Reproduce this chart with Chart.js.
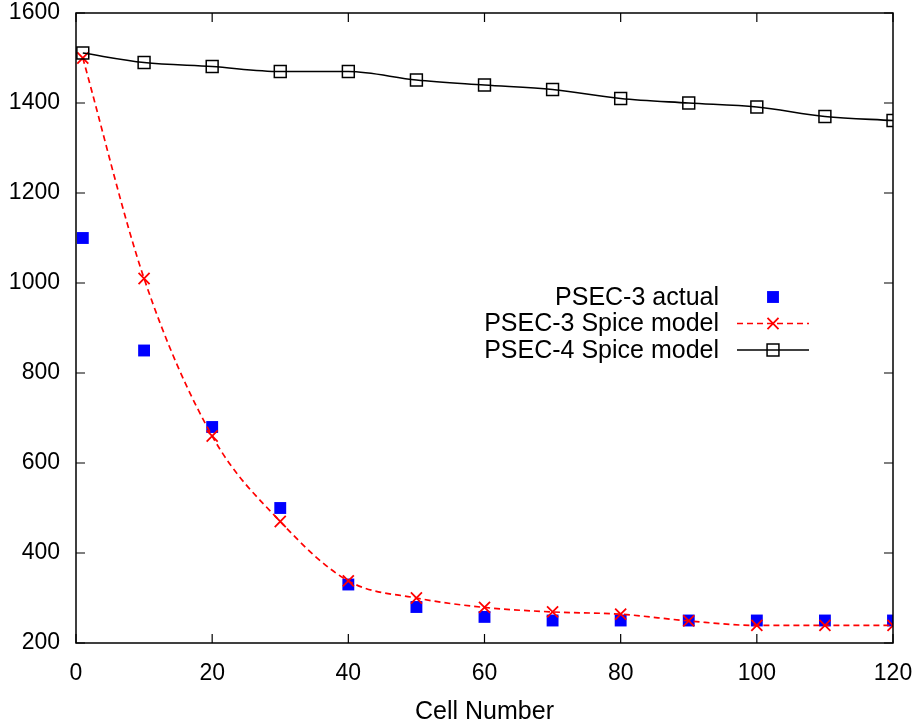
<!DOCTYPE html>
<html>
<head>
<meta charset="utf-8">
<script src="https://cdn.jsdelivr.net/npm/chart.js@4"></script>
<style>
  html, body { margin: 0; padding: 0; background: #fff; }
  #wrap { width: 919px; height: 720px; }
</style>
</head>
<body>
<div id="wrap"><canvas id="c" width="919" height="720"></canvas></div>
<script>
const cells = [1, 10, 20, 30, 40, 50, 60, 70, 80, 90, 100, 110, 120];
const psec3Actual = [1100, 850, 680, 500, 330, 280, 258, 250, 250, 250, 250, 250, 250];
const psec3Spice  = [1500, 1010, 660, 470, 338, 300, 279, 269, 264, 249, 239, 239, 239];
const psec4Spice  = [1511, 1490, 1481, 1470, 1470, 1451, 1440, 1430, 1410, 1400, 1391, 1370, 1361];
const seriesNames = ['PSEC-3 actual', 'PSEC-3 Spice model', 'PSEC-4 Spice model'];
const xTitle = 'Cell Number';
const xTicks = [0, 20, 40, 60, 80, 100, 120];
const yTicks = [200, 400, 600, 800, 1000, 1200, 1400, 1600];

const toPts = (ys) => cells.map((x, i) => ({x: x, y: ys[i]}));

const FONT = '"Liberation Sans", Arial, Helvetica, sans-serif';

function legendPoint(ctx, ds, x, y) {
  ctx.save();
  ctx.fillStyle = ds.pointBackgroundColor;
  ctx.strokeStyle = ds.pointBorderColor;
  ctx.lineWidth = ds.pointBorderWidth;
  Chart.helpers.drawPoint(ctx, {pointStyle: ds.pointStyle, radius: ds.pointRadius, borderWidth: ds.pointBorderWidth, rotation: 0}, x, y);
  ctx.restore();
}

const frameAndLegend = {
  id: 'frameAndLegend',
  afterDatasetsDraw(chart) {
    const {ctx, chartArea: a, scales} = chart;
    ctx.save();
    // frame
    ctx.strokeStyle = '#000';
    ctx.lineWidth = 1.5;
    ctx.strokeRect(a.left, a.top, a.right - a.left, a.bottom - a.top);
    // inward, mirrored ticks
    const tl = 9;
    ctx.lineWidth = 1.2;
    ctx.beginPath();
    xTicks.forEach(v => {
      const px = scales.x.getPixelForValue(v);
      ctx.moveTo(px, a.bottom); ctx.lineTo(px, a.bottom - tl);
      ctx.moveTo(px, a.top); ctx.lineTo(px, a.top + tl);
    });
    yTicks.forEach(v => {
      const py = scales.y.getPixelForValue(v);
      ctx.moveTo(a.left, py); ctx.lineTo(a.left + tl, py);
      ctx.moveTo(a.right, py); ctx.lineTo(a.right - tl, py);
    });
    ctx.stroke();

    // legend, gnuplot style: right-aligned text with sample on the right
    const textRight = 719, sx0 = 737, sx1 = 809, mx = 773;
    const rows = [297, 323.5, 350];
    ctx.font = '25px ' + FONT;
    ctx.textAlign = 'right';
    ctx.textBaseline = 'middle';
    chart.data.datasets.forEach((ds, i) => {
      const y = rows[i];
      ctx.fillStyle = '#000';
      ctx.fillText(ds.label, textRight, y + 1);
      if (ds.showLine) {
        ctx.save();
        ctx.strokeStyle = ds.borderColor;
        ctx.lineWidth = ds.borderWidth;
        ctx.setLineDash(ds.borderDash || []);
        ctx.beginPath();
        ctx.moveTo(sx0, y); ctx.lineTo(sx1, y);
        ctx.stroke();
        ctx.restore();
      }
      legendPoint(ctx, ds, mx, y);
    });
    ctx.restore();
  }
};

new Chart(document.getElementById('c'), {
  type: 'scatter',
  data: {
    datasets: [
      {
        label: seriesNames[0],
        data: toPts(psec3Actual),
        showLine: false,
        pointStyle: 'rect',
        pointRadius: 8.4,
        pointBackgroundColor: '#0000ff',
        pointBorderColor: '#0000ff',
        pointBorderWidth: 0,
        order: 3
      },
      {
        label: seriesNames[1],
        data: toPts(psec3Spice),
        showLine: true,
        borderColor: '#ff0000',
        borderWidth: 1.7,
        borderDash: [6, 4],
        cubicInterpolationMode: 'monotone',
        pointStyle: 'crossRot',
        pointRadius: 7.8,
        pointBackgroundColor: '#ff0000',
        pointBorderColor: '#ff0000',
        pointBorderWidth: 1.8,
        order: 2
      },
      {
        label: seriesNames[2],
        data: toPts(psec4Spice),
        showLine: true,
        borderColor: '#000000',
        borderWidth: 1.6,
        cubicInterpolationMode: 'monotone',
        pointStyle: 'rect',
        pointRadius: 8.4,
        pointBackgroundColor: 'rgba(255,255,255,0)',
        pointBorderColor: '#000000',
        pointBorderWidth: 1.5,
        order: 1
      }
    ]
  },
  options: {
    responsive: false,
    animation: false,
    events: [],
    layout: { padding: { top: 13, right: 26, left: 0, bottom: 0 } },
    plugins: {
      legend: { display: false },
      tooltip: { enabled: false }
    },
    scales: {
      x: {
        type: 'linear',
        min: 0, max: 120,
        afterFit: (s) => { s.height = 77; s.paddingLeft = 0; s.paddingRight = 0; },
        afterBuildTicks: (s) => { s.ticks = xTicks.map(v => ({value: v})); },
        grid: { display: false, drawTicks: false },
        border: { display: false },
        ticks: {
          padding: 17,
          color: '#000',
          font: { family: FONT, size: 23 },
          maxRotation: 0,
          callback: (v) => String(v)
        },
        title: {
          display: true,
          text: xTitle,
          color: '#000',
          font: { family: FONT, size: 25, lineHeight: 0.6 },
          padding: { top: 0, bottom: 0 }
        }
      },
      y: {
        type: 'linear',
        min: 200, max: 1600,
        afterFit: (s) => { s.width = 76; s.paddingTop = 0; s.paddingBottom = 0; },
        afterBuildTicks: (s) => { s.ticks = yTicks.map(v => ({value: v})); },
        grid: { display: false, drawTicks: false },
        border: { display: false },
        ticks: {
          padding: 16,
          color: '#000',
          font: { family: FONT, size: 23 },
          callback: (v) => String(v)
        }
      }
    }
  },
  plugins: [frameAndLegend]
});
</script>
</body>
</html>
